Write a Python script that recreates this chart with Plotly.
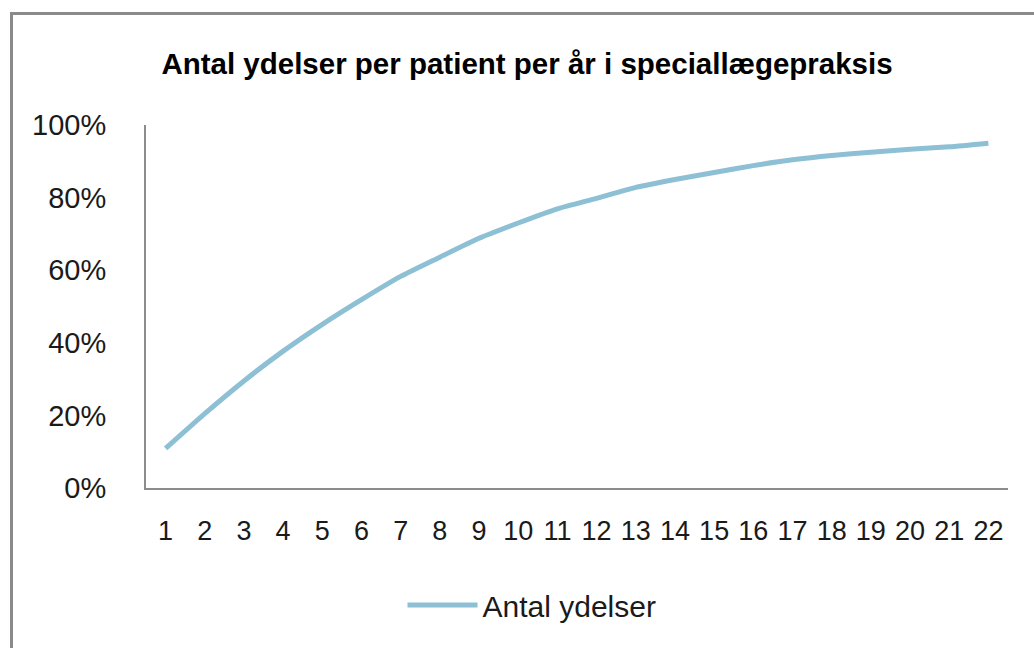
import plotly.graph_objects as go

categories = [str(i) for i in range(1, 23)]
values = [0.109, 0.205, 0.295, 0.377, 0.451, 0.519, 0.583, 0.636, 0.688, 0.730,
          0.769, 0.798, 0.828, 0.850, 0.869, 0.888, 0.904, 0.916, 0.925, 0.933,
          0.940, 0.950]
series_name = "Antal ydelser"
title_text = "Antal ydelser per patient per år i speciallægepraksis"
y_ticks = [0, 0.2, 0.4, 0.6, 0.8, 1.0]
y_tick_labels = ["0%", "20%", "40%", "60%", "80%", "100%"]

line_color = "#8DC0D4"
font_fam = "Liberation Sans"

fig = go.Figure()
fig.add_trace(go.Scatter(
    x=categories, y=values, mode="lines", name=series_name,
    line=dict(color=line_color, width=5, shape="spline", smoothing=0.6),
    showlegend=True,
))

L, R, T, B = 146, 26, 125, 160
W, H = 1034, 648
pw, ph = W - L - R, H - T - B

def px_x(p):
    return (p - L) / pw

def px_y(p):
    return (H - B - p) / ph

fig.update_layout(
    width=W, height=H,
    margin=dict(l=L, r=R, t=T, b=B),
    paper_bgcolor="white", plot_bgcolor="white",
    font=dict(family=font_fam, size=28, color="#1a1a1a"),
    title=dict(text="<b>" + title_text + "</b>", xref="container", x=527 / W,
               xanchor="center", yref="container", y=1 - 64 / H, yanchor="middle",
               font=dict(family=font_fam, size=29.5, color="#000000")),
    xaxis=dict(type="category", showline=True, linecolor="#8c8c8c", linewidth=2,
               showgrid=False, ticks="", tickfont=dict(size=27),
               ticklabelstandoff=18, range=[-0.5, 21.5]),
    yaxis=dict(range=[0, 1], tickvals=y_ticks, ticktext=y_tick_labels,
               showline=True, linecolor="#8c8c8c", linewidth=2,
               showgrid=False, ticks="", tickfont=dict(size=29),
               ticklabelstandoff=32, zeroline=False),
    legend=dict(orientation="h", x=px_x(532), xanchor="center",
                y=px_y(605), yanchor="middle",
                font=dict(size=30), itemwidth=70, bgcolor="rgba(0,0,0,0)"),
    showlegend=True,
)

fig.add_shape(type="rect", xref="paper", yref="paper",
              x0=px_x(11.5), x1=px_x(1060), y0=px_y(13.5), y1=px_y(700),
              line=dict(color="#8a8a8a", width=3), fillcolor="rgba(0,0,0,0)",
              layer="below")

fig.write_html("out.html",
               config={"displayModeBar": False},
               post_script="document.body.style.margin='0';document.body.style.overflow='hidden';")
